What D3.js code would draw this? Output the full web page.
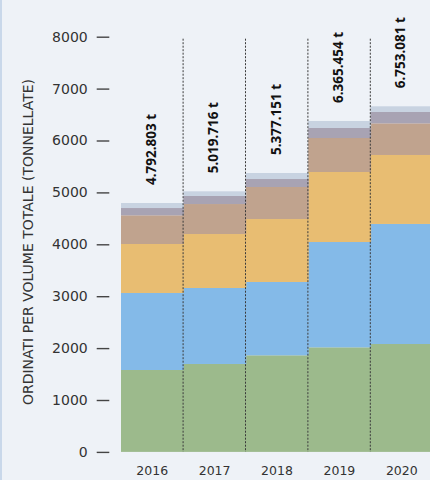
<!DOCTYPE html>
<html>
<head>
<meta charset="utf-8">
<script src="https://cdn.jsdelivr.net/npm/d3@7"></script>
<style>
  html, body { margin: 0; padding: 0; background: #eef2f7; }
  svg { display: block; }
</style>
</head>
<body>
<svg id="chart" width="430" height="480"></svg>
<script>
const years = ["2016", "2017", "2018", "2019", "2020"];
const layerKeys = ["verde", "blu", "arancio", "marrone", "grigio", "chiaro"];
const verde   = [1578, 1694, 1861, 2015, 2079];
const blu     = [1484, 1464, 1413, 2029, 2313];
const arancio = [944, 1040, 1213, 1349, 1329];
const marrone = [553, 578, 617, 655, 610];
const grigio  = [140, 155, 154, 193, 218];
const chiaro  = [97, 90, 116, 135, 110];
const totalLabels = ["4.792.803 t", "5.019.716 t", "5.377.151 t", "6.365.454 t", "6.753.081 t"];
const yTicks = [0, 1000, 2000, 3000, 4000, 5000, 6000, 7000, 8000];
const yTitle = "ORDINATI PER VOLUME TOTALE (TONNELLATE)";

const colors = {
  verde: "#9cba8c", blu: "#84bae8", arancio: "#e8bd72",
  marrone: "#c0a38e", grigio: "#a8a3b3", chiaro: "#c8d3e1"
};
const series = { verde, blu, arancio, marrone, grigio, chiaro };
const rows = years.map((y, i) => {
  const r = { year: y };
  layerKeys.forEach(k => r[k] = series[k][i]);
  return r;
});

const svg = d3.select("#chart");
svg.append("rect").attr("width", 430).attr("height", 480).attr("fill", "#eef2f7");
svg.append("rect").attr("x", 0).attr("y", 0).attr("width", 2).attr("height", 480).attr("fill", "#c9d8ea");

const x = d3.scaleBand().domain(years).range([121, 433]).padding(0);
const y = d3.scaleLinear().domain([0, 8000]).range([451.9, 36.7]);

const stacked = d3.stack().keys(layerKeys)(rows);

svg.append("g").selectAll("g").data(stacked).join("g")
  .attr("fill", d => colors[d.key])
  .selectAll("rect").data(d => d).join("rect")
  .attr("x", d => x(d.data.year))
  .attr("width", x.bandwidth() + 0.5)
  .attr("y", d => y(d[1]))
  .attr("height", d => y(d[0]) - y(d[1]));

// dashed separators
svg.append("g").selectAll("line").data(years.slice(1)).join("line")
  .attr("x1", d => x(d) - 0.3).attr("x2", d => x(d) - 0.3)
  .attr("y1", y(8000) + 2).attr("y2", y(0))
  .attr("stroke", "#3a3a3a").attr("stroke-width", 1)
  .attr("stroke-dasharray", "2,1.5");

// y axis
const yAxis = d3.axisLeft(y).tickValues(yTicks).tickSize(12.6).tickPadding(9).tickFormat(d3.format("d"));
const gy = svg.append("g").attr("transform", "translate(109.3,0)").call(yAxis);
gy.select(".domain").remove();
gy.selectAll(".tick line").attr("stroke", "#444").attr("stroke-width", 1.4);
gy.selectAll(".tick text")
  .attr("font-family", "DejaVu Sans").attr("font-size", 14).attr("fill", "#333");

// x labels
svg.append("g").selectAll("text").data(years).join("text")
  .attr("x", d => x(d) + x.bandwidth() / 2)
  .attr("y", 475)
  .attr("text-anchor", "middle")
  .attr("font-family", "DejaVu Sans").attr("font-size", 12.5).attr("fill", "#333")
  .text(d => d);

// total labels
const tops = stacked[stacked.length - 1];
svg.append("g").selectAll("text").data(tops).join("text")
  .attr("transform", (d, i) => {
    const cx = x(d.data.year) + x.bandwidth() / 2 - 1.5;
    const cy = y(d[1]) - 18;
    return `translate(${cx},${cy}) rotate(-90)`;
  })
  .attr("dominant-baseline", "central")
  .attr("text-anchor", "start")
  .attr("font-family", "Open Sans, sans-serif")
  .attr("font-weight", "bold").attr("font-size", 13.5).attr("fill", "#111")
  .text((d, i) => totalLabels[i]);

// y title
svg.append("text")
  .attr("transform", "translate(28,242) rotate(-90)")
  .attr("text-anchor", "middle").attr("dominant-baseline", "central")
  .attr("font-family", "DejaVu Sans").attr("font-size", 14).attr("fill", "#333")
  .text(yTitle);
</script>
</body>
</html>
